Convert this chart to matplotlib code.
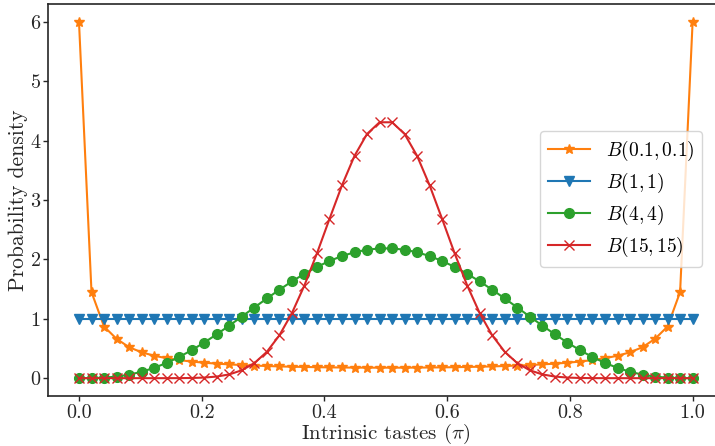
import matplotlib
matplotlib.use("Agg")
import matplotlib.pyplot as plt

x = [0.0, 0.0204, 0.0408, 0.0612, 0.0816, 0.1020, 0.1224, 0.1429, 0.1633, 0.1837,
     0.2041, 0.2245, 0.2449, 0.2653, 0.2857, 0.3061, 0.3265, 0.3469, 0.3673, 0.3878,
     0.4082, 0.4286, 0.4490, 0.4694, 0.4898, 0.5102, 0.5306, 0.5510, 0.5714, 0.5918,
     0.6122, 0.6327, 0.6531, 0.6735, 0.6939, 0.7143, 0.7347, 0.7551, 0.7755, 0.7959,
     0.8163, 0.8367, 0.8571, 0.8776, 0.8980, 0.9184, 0.9388, 0.9592, 0.9796, 1.0]

b_01 = [6.0, 1.45, 0.87, 0.663, 0.522, 0.436, 0.378, 0.336, 0.304, 0.280,
        0.260, 0.245, 0.232, 0.221, 0.212, 0.205, 0.198, 0.193, 0.189, 0.185,
        0.182, 0.180, 0.178, 0.177, 0.177, 0.177, 0.177, 0.178, 0.180, 0.182,
        0.185, 0.189, 0.193, 0.198, 0.205, 0.212, 0.221, 0.232, 0.245, 0.260,
        0.280, 0.304, 0.336, 0.378, 0.436, 0.522, 0.663, 0.87, 1.45, 6.0]

b_1 = [1.0] * 50

b_4 = [0.0, 0.0011, 0.0084, 0.0266, 0.0590, 0.1077, 0.1737, 0.2570, 0.3569, 0.4719,
       0.6000, 0.7387, 0.8853, 1.0368, 1.1900, 1.3417, 1.4888, 1.6284, 1.7573, 1.8731,
       1.9735, 2.0563, 2.1199, 2.1630, 2.1848, 2.1848, 2.1630, 2.1199, 2.0563, 1.9735,
       1.8731, 1.7573, 1.6284, 1.4888, 1.3417, 1.1900, 1.0368, 0.8853, 0.7387, 0.6000,
       0.4719, 0.3569, 0.2570, 0.1737, 0.1077, 0.0590, 0.0266, 0.0084, 0.0011, 0.0]

b_15 = [0.0, 0.0, 0.0, 0.0, 0.0, 0.0, 0.0, 0.0002, 0.0009, 0.0034,
        0.0104, 0.0273, 0.0636, 0.1329, 0.2529, 0.4428, 0.7197, 1.0930, 1.5599, 2.1013,
        2.6806, 3.2472, 3.7432, 4.1119, 4.3087, 4.3087, 4.1119, 3.7432, 3.2472, 2.6806,
        2.1013, 1.5599, 1.0930, 0.7197, 0.4428, 0.2529, 0.1329, 0.0636, 0.0273, 0.0104,
        0.0034, 0.0009, 0.0002, 0.0, 0.0, 0.0, 0.0, 0.0, 0.0, 0.0]

labels = [r"$B(0.1, 0.1)$", r"$B(1, 1)$", r"$B(4, 4)$", r"$B(15, 15)$"]

plt.rcParams["font.family"] = "serif"
plt.rcParams["font.serif"] = ["cmr10", "DejaVu Serif"]
plt.rcParams["mathtext.fontset"] = "cm"
plt.rcParams["axes.formatter.use_mathtext"] = True
plt.rcParams["axes.unicode_minus"] = False

fig = plt.figure(figsize=(7.15, 4.46), dpi=100)
ax = fig.add_axes([48.3 / 715, 1 - 396 / 446, 675 / 715, 392 / 446])

ax.plot(x, b_01, color="#ff7f0e", marker="*", markersize=7, lw=1.5, label=labels[0])
ax.plot(x, b_1, color="#1f77b4", marker="v", markersize=6.5, lw=1.5, label=labels[1])
ax.plot(x, b_4, color="#2ca02c", marker="o", markersize=7, lw=1.5, label=labels[2])
ax.plot(x, b_15, color="#d62728", marker="x", markersize=7, lw=1.5, label=labels[3])

ax.set_xlim(-0.05, 1.05)
ax.set_ylim(-0.3, 6.3)
ax.set_xticks([0.0, 0.2, 0.4, 0.6, 0.8, 1.0])
ax.set_xticklabels(["0.0", "0.2", "0.4", "0.6", "0.8", "1.0"])
ax.set_yticks([0, 1, 2, 3, 4, 5, 6])
ax.set_yticklabels(["0", "1", "2", "3", "4", "5", "6"])
ax.tick_params(labelsize=14.5, length=3.5, width=1, colors="#262626", pad=2)
for s in ax.spines.values():
    s.set_color("#262626")
    s.set_linewidth(1.2)

ax.set_xlabel(r"Intrinsic tastes ($\pi$)", fontsize=15, color="#262626", labelpad=0)
ax.set_ylabel("Probability density", fontsize=15.5, color="#262626", labelpad=2)

leg = ax.legend(loc="center right", bbox_to_anchor=(712 / 715, 1 - 199 / 446),
                bbox_transform=fig.transFigure, fontsize=14, frameon=True,
                fancybox=True, edgecolor="#cccccc", handlelength=2.2,
                labelspacing=0.4)
leg.get_frame().set_linewidth(1.0)

fig.savefig("out.png", dpi=100)
